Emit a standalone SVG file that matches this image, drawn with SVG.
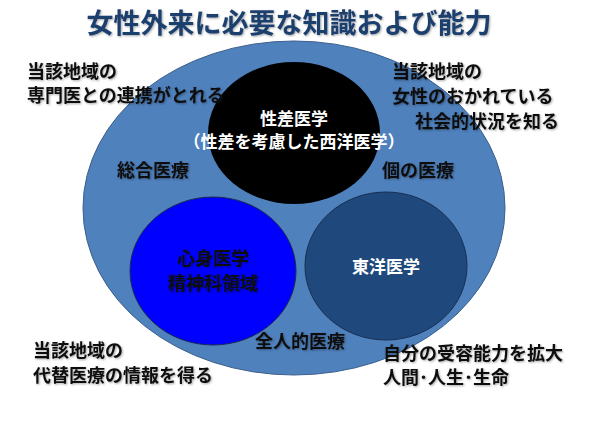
<svg xmlns="http://www.w3.org/2000/svg" width="600" height="425" viewBox="0 0 600 425">
<defs>
<filter id="sh" x="-5%" y="-5%" width="115%" height="130%">
<feDropShadow dx="1" dy="1" stdDeviation="0.8" flood-color="#000" flood-opacity="0.35"/>
</filter>
</defs>
<style>
text{font-family:"Noto Sans CJK JP","Noto Sans CJK SC",sans-serif;font-weight:bold;}
.t{font-size:18px;fill:#111;filter:url(#sh);}
.w{font-size:17px;fill:#fff;text-anchor:middle;}
.c{text-anchor:middle;}
</style>
<rect width="600" height="425" fill="#fff"/>
<text x="289" y="33" font-size="27" fill="#1F3F6E" text-anchor="middle" filter="url(#sh)">女性外来に必要な知識および能力</text>
<g id="outer"><ellipse cx="294" cy="208" rx="211" ry="167" fill="#4F81BD" stroke="#3A5F8C" stroke-width="1"/></g>
<g id="seisa">
<ellipse cx="294" cy="133" rx="86" ry="71" fill="#000"/>
<text class="w" x="294" y="125">性差医学</text>
<text class="w" x="294" y="148">（性差を考慮した西洋医学）</text>
</g>
<g id="shinshin">
<ellipse cx="213" cy="271" rx="83" ry="74" fill="#0000FF" stroke="#1a2a50" stroke-width="1"/>
<text class="t c" x="213" y="265">心身医学</text>
<text class="t c" x="213" y="290">精神科領域</text>
</g>
<g id="touyou">
<ellipse cx="386" cy="266" rx="81" ry="74" fill="#1F497D" stroke="#172f50" stroke-width="1"/>
<text class="w" x="386" y="273" font-size="17.5">東洋医学</text>
</g>
<g id="labels">
<text class="t" x="27" y="78">当該地域の</text>
<text class="t" x="27" y="102">専門医との連携がとれる</text>
<text class="t" x="117" y="177">総合医療</text>
<text class="t" x="392" y="78">当該地域の</text>
<text class="t" x="392" y="103">女性のおかれている</text>
<text class="t" x="415" y="128">社会的状況を知る</text>
<text class="t" x="382" y="177">個の医療</text>
<text class="t" x="255" y="348">全人的医療</text>
<text class="t" x="33" y="357">当該地域の</text>
<text class="t" x="33" y="382">代替医療の情報を得る</text>
<text class="t" x="383" y="360">自分の受容能力を拡大</text>
<text class="t" x="383" y="384">人間･人生･生命</text>
</g>
</svg>
